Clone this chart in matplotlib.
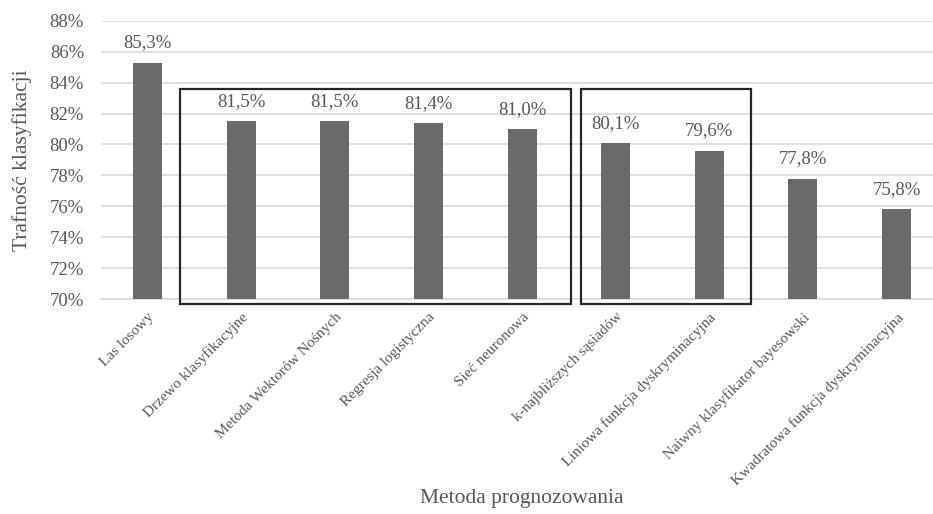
import matplotlib.pyplot as plt
from matplotlib.patches import Rectangle
from matplotlib.ticker import FuncFormatter

plt.rcParams['font.family'] = ['Liberation Serif', 'DejaVu Serif']

# Data
metody = ['Las losowy', 'Drzewo klasyfikacyjne', 'Metoda Wektorów Nośnych',
          'Regresja logistyczna', 'Sieć neuronowa', 'k-najbliższych sąsiadów',
          'Liniowa funkcja dyskryminacyjna', 'Naiwny klasyfikator bayesowski',
          'Kwadratowa funkcja dyskryminacyjna']
trafnosc = [85.3, 81.5, 81.5, 81.4, 81.0, 80.1, 79.6, 77.8, 75.8]

# groups framed with a box (first index, last index)
grupy = [(1, 4), (5, 6)]

szary = '#595959'

fig = plt.figure(figsize=(9.33, 5.14), dpi=100)
ax = fig.add_axes([0.108, 0.418, 0.903, 0.5416])

x = range(len(metody))
bars = ax.bar(x, trafnosc, width=0.31, color='#6a6a6a', zorder=3)

# value labels
for b, v in zip(bars, trafnosc):
    ax.annotate(f'{v:.1f}%'.replace('.', ','), (b.get_x() + b.get_width() / 2, v),
                xytext=(0, 8), textcoords='offset points', ha='center', va='bottom',
                fontsize=13.5, color=szary)

ax.set_xlim(-0.5, len(metody) - 0.5)
ax.set_ylim(70, 88)
ax.set_yticks(range(70, 89, 2))
ax.yaxis.set_major_formatter(FuncFormatter(lambda v, p: f'{v:.0f}%'))
ax.grid(axis='y', color='#d9d9d9', linewidth=1.2, zorder=0)
ax.set_axisbelow(True)

for s in ['top', 'right', 'left']:
    ax.spines[s].set_visible(False)
ax.spines['bottom'].set_color('#d9d9d9')
ax.spines['bottom'].set_linewidth(1.2)

ax.tick_params(axis='both', length=0, colors=szary)
ax.tick_params(axis='y', labelsize=13.5, pad=12)
ax.set_xticks(list(x))
ax.set_xticklabels(metody, rotation=45, ha='right', rotation_mode='anchor',
                   fontsize=11, color=szary)
ax.tick_params(axis='x', pad=8)

ax.set_ylabel('Trafność klasyfikacji', fontsize=15.5, color=szary, va='center')
ax.set_xlabel('Metoda prognozowania', fontsize=15.5, color=szary, va='center')
ax.xaxis.set_label_coords(0.5, -0.715)
ax.yaxis.set_label_coords(-0.093, 0.5)

# frames around groups
for (a, b), (lpad, rpad) in zip(grupy, [(0.65, 0.52), (0.37, 0.45)]):
    r = Rectangle((a - lpad, 69.7), (b + rpad) - (a - lpad), 83.6 - 69.7,
                  fill=False, edgecolor='#262626', linewidth=1.6, clip_on=False, zorder=4)
    ax.add_patch(r)

fig.savefig('out.png', dpi=100)
